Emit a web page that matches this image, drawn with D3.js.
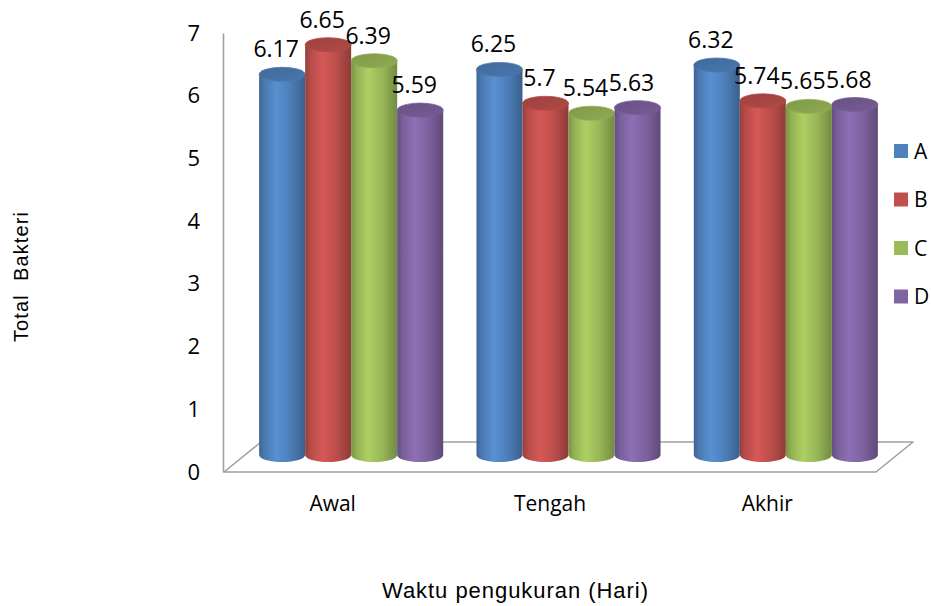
<!DOCTYPE html>
<html>
<head>
<meta charset="utf-8">
<script src="https://cdn.jsdelivr.net/npm/d3@7"></script>
<style>
  html, body { margin: 0; padding: 0; background: #ffffff; }
  svg { display: block; }
</style>
</head>
<body>
<svg id="chart" width="931" height="606"></svg>
<script>
// Total bacteria per measurement time, four treatments (A–D)
const categories = ["Awal", "Tengah", "Akhir"];
const seriesNames = ["A", "B", "C", "D"];
const valuesA = [6.17, 6.25, 6.32];
const valuesB = [6.65, 5.7, 5.74];
const valuesC = [6.39, 5.54, 5.65];
const valuesD = [5.59, 5.63, 5.68];
const yTicks = [0, 1, 2, 3, 4, 5, 6, 7];
const seriesColors = ["#4F81BD", "#C0504D", "#9BBB59", "#8064A2"];

const seriesValues = [valuesA, valuesB, valuesC, valuesD];

const svg = d3.select("#chart");
const numFont = "'Open Sans', 'Noto Sans', sans-serif";
const titleFont = "'Liberation Sans', Arial, sans-serif";

// Oblique floor: front edge and a receding depth offset
const front = { left: 224, right: 876, y: 472, top: 33 };
const depth = { dx: 37, dy: -30 };
const mid = { dx: depth.dx / 2, dy: depth.dy / 2 };

// Scales: front plane (axis & labels) and mid-depth plane (bars)
const yFront = d3.scaleLinear().domain([0, 7]).range([front.y, front.top]);
const yBar = d3.scaleLinear().domain([0, 7]).range([front.y + mid.dy - 2, front.y + mid.dy - 2 - 7 * 61.7]);
const xFront = d3.scaleBand().domain(categories).range([front.left, front.right])
  .paddingInner(0.153).paddingOuter(0.0765);
const xBar = d3.scaleBand().domain(categories).range([front.left + mid.dx, front.right + mid.dx])
  .paddingInner(0.153).paddingOuter(0.0765);
const xSeries = d3.scaleBand().domain(seriesNames).range([0, xBar.bandwidth()]);
const color = d3.scaleOrdinal().domain(seriesNames).range(seriesColors);

// Gradients for cylinder sides and tops
const defs = svg.append("defs");
seriesNames.forEach(s => {
  const base = d3.color(color(s));
  const g = defs.append("linearGradient").attr("id", "side-" + s)
    .attr("x1", "0").attr("x2", "1").attr("y1", "0").attr("y2", "0");
  g.append("stop").attr("offset", "0").attr("stop-color", base.darker(0.7));
  g.append("stop").attr("offset", "0.12").attr("stop-color", base.darker(0.15));
  g.append("stop").attr("offset", "0.38").attr("stop-color", base.brighter(0.3));
  g.append("stop").attr("offset", "0.7").attr("stop-color", base.darker(0.1));
  g.append("stop").attr("offset", "1").attr("stop-color", base.darker(0.85));
  const t = defs.append("linearGradient").attr("id", "top-" + s)
    .attr("x1", "0").attr("x2", "1").attr("y1", "0").attr("y2", "1");
  t.append("stop").attr("offset", "0").attr("stop-color", base.darker(0.55));
  t.append("stop").attr("offset", "1").attr("stop-color", base.darker(0.25));
});

// Floor
const floorPts = [
  [front.left, front.y],
  [front.right, front.y],
  [front.right + depth.dx, front.y + depth.dy],
  [front.left + depth.dx, front.y + depth.dy]
];
svg.append("path")
  .attr("d", d3.line()(floorPts) + "Z")
  .attr("fill", "#ffffff")
  .attr("stroke", "#a0a0a0")
  .attr("stroke-width", 1.6)
  .attr("stroke-linejoin", "round");

// Value axis on the front-left edge
const yAxis = svg.append("g")
  .attr("transform", `translate(${front.left - 1},0)`)
  .call(d3.axisLeft(yFront).tickValues(yTicks).tickFormat(d3.format("d"))
    .tickSize(0).tickSizeOuter(0).tickPadding(23));
yAxis.select(".domain").attr("stroke", "#a0a0a0").attr("stroke-width", 1.6);
yAxis.selectAll("text").attr("font-family", numFont).attr("font-size", 22).attr("fill", "#000");

// Category axis
const xAxis = svg.append("g")
  .attr("transform", `translate(0,${front.y})`)
  .call(d3.axisBottom(xFront).tickSize(0).tickPadding(24));
xAxis.select(".domain").remove();
xAxis.selectAll("text").attr("font-family", numFont).attr("font-size", 21).attr("fill", "#000");

// Cylinders
const rows = [];
categories.forEach((c, ci) => {
  seriesNames.forEach((s, si) => {
    rows.push({ cat: c, series: s, value: seriesValues[si][ci] });
  });
});

const ry = 7;
const bars = svg.append("g").selectAll("g.bar").data(rows).join("g").attr("class", "bar");
bars.each(function(d) {
  const g = d3.select(this);
  const x0 = xBar(d.cat) + xSeries(d.series);
  const w = xSeries.bandwidth();
  const x1 = x0 + w;
  const rx = w / 2;
  const yb = yBar(0);
  const yt = yBar(d.value);
  g.append("path")
    .attr("d", `M${x0},${yt} L${x0},${yb} A${rx},${ry} 0 0 0 ${x1},${yb} L${x1},${yt} Z`)
    .attr("fill", `url(#side-${d.series})`);
  g.append("ellipse")
    .attr("cx", x0 + rx).attr("cy", yt).attr("rx", rx).attr("ry", ry)
    .attr("fill", `url(#top-${d.series})`)
    .attr("stroke", d3.color(color(d.series)).darker(0.2))
    .attr("stroke-width", 0.8);
});

// Value labels
svg.append("g").selectAll("text").data(rows).join("text")
  .attr("x", d => xBar(d.cat) + xSeries(d.series) + xSeries.bandwidth() / 2 - 6)
  .attr("y", d => yBar(d.value) - 17)
  .attr("text-anchor", "middle")
  .attr("font-family", numFont)
  .attr("font-size", 23)
  .attr("fill", "#000")
  .text(d => String(d.value));

// Legend
const legend = svg.append("g").selectAll("g").data(seriesNames).join("g")
  .attr("transform", (d, i) => `translate(894,${144 + i * 48.5})`);
legend.append("rect").attr("width", 14).attr("height", 14).attr("fill", d => color(d));
legend.append("text")
  .attr("x", 20).attr("y", 7).attr("dy", "0.36em")
  .attr("font-family", numFont).attr("font-size", 21).attr("fill", "#000")
  .text(d => d);

// Axis titles
svg.append("text")
  .attr("x", 515).attr("y", 598)
  .attr("text-anchor", "middle")
  .attr("font-family", titleFont).attr("font-size", 22)
  .attr("textLength", 266).attr("lengthAdjust", "spacing")
  .text("Waktu pengukuran (Hari)");

svg.append("text")
  .attr("transform", "translate(28,277) rotate(-90)")
  .attr("text-anchor", "middle")
  .attr("font-family", titleFont).attr("font-size", 20)
  .attr("textLength", 130).attr("lengthAdjust", "spacing")
  .style("white-space", "pre")
  .text("Total  Bakteri");
</script>
</body>
</html>
